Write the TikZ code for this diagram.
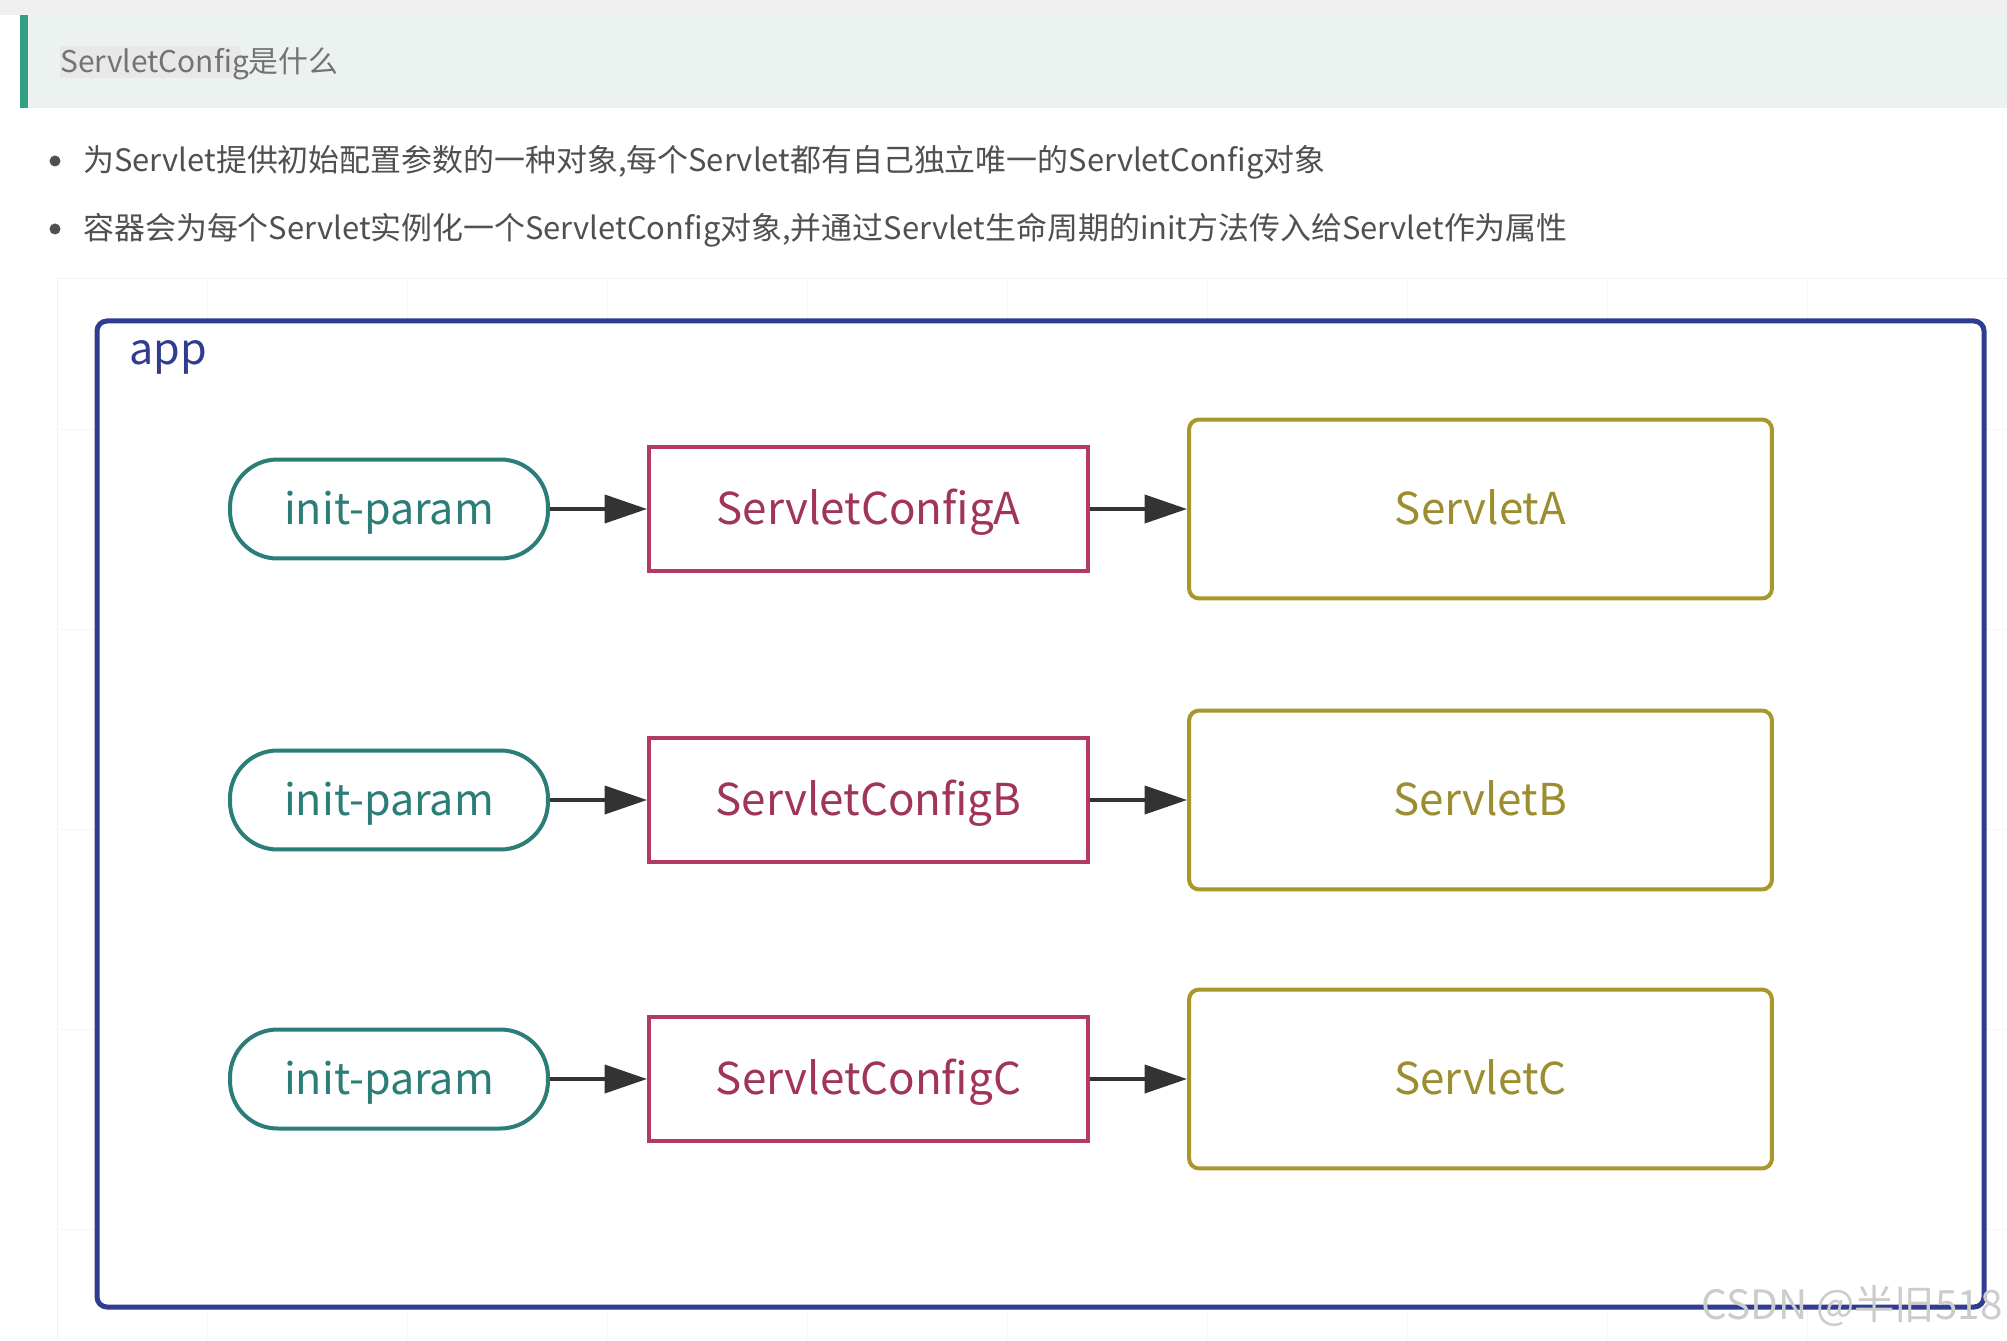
\documentclass[tikz,border=0pt]{standalone}
\usepackage{fontspec}
\setmainfont{Noto Sans CJK SC}
\usetikzlibrary{arrows.meta}
\definecolor{appblue}{RGB}{47,60,143}
\definecolor{paramteal}{RGB}{43,125,120}
\definecolor{cfgred}{RGB}{178,58,99}
\definecolor{svlolive}{RGB}{168,152,44}
\definecolor{svltext}{RGB}{156,142,48}
\definecolor{arrowgray}{RGB}{51,51,51}
\definecolor{bodygray}{RGB}{80,80,80}
\definecolor{headbg}{RGB}{236,242,240}
\definecolor{headbar}{RGB}{52,160,130}
\tikzset{
  boxtext/.style={text height=23pt,text depth=5pt},
  param/.style={boxtext,draw=paramteal,text=paramteal,line width=0.08cm,rounded corners=0.95cm,
    minimum width=6.36cm,minimum height=1.98cm,font=\fontsize{24.5}{28}\selectfont},
  cfg/.style={boxtext,draw=cfgred,text=cfgred!90!black,line width=0.08cm,
    minimum width=8.78cm,minimum height=2.5cm,font=\fontsize{25}{28}\selectfont},
  svl/.style={boxtext,draw=svlolive,text=svltext,line width=0.08cm,rounded corners=0.2cm,
    minimum width=11.66cm,minimum height=3.58cm,font=\fontsize{25}{28}\selectfont},
  flow/.style={draw=arrowgray,line width=0.08cm,-{Triangle[length=0.85cm,width=0.56cm]}},
  bullettext/.style={anchor=west,text=bodygray,inner sep=0,font=\fontsize{17.6}{21}\selectfont}
}
\newcommand{\svrow}[2]{% y, letter   (init-param -> ServletConfig -> Servlet)
  \node[param] (p#2) at (389,#1) {init-param};
  \node[cfg] (c#2) at (868.5,#1) {ServletConfig#2};
  \node[svl] (s#2) at (1480.5,#1) {Servlet#2};
  \draw[flow] (p#2) -- (c#2);
  \draw[flow] (c#2) -- (s#2);}

\begin{document}
\begin{tikzpicture}[x=0.02cm,y=-0.02cm]
  \useasboundingbox (0,0) rectangle (2007,1341);
  \fill[white] (0,0) rectangle (2007,1341);
  % header
  \fill[gray!12] (0,0) rectangle (2007,15);
  \fill[headbg] (20,15) rectangle (2007,108);
  \fill[headbar] (20,15) rectangle (28,108);
  \fill[gray!18] (60,46) rectangle (241,78);
  \node[anchor=west,inner sep=0,text=gray!90!black,font=\fontsize{17}{20}\selectfont] (title) at (60,64) {ServletConfig是什么};
  % bullets
  \fill[bodygray] (55,161) circle (5.5);
  \node[bullettext] (b1) at (83,162) {为Servlet提供初始配置参数的一种对象,每个Servlet都有自己独立唯一的ServletConfig对象};
  \fill[bodygray] (55,229) circle (5.5);
  \node[bullettext] (b2) at (83,230) {容器会为每个Servlet实例化一个ServletConfig对象,并通过Servlet生命周期的init方法传入给Servlet作为属性};
  % faint grid
  \draw[gray!10,line width=0.5pt] (57,278) -- (2007,278);
  \draw[gray!10,line width=0.5pt] (57,278) -- (57,1341);
  \foreach \gx in {207,407,...,2007} \draw[gray!7,line width=0.5pt] (\gx,278) -- (\gx,1341);
  \foreach \gy in {429,629,...,1341} \draw[gray!7,line width=0.5pt] (57,\gy) -- (2007,\gy);
  % app frame
  \draw[appblue,line width=0.1cm,fill=white,rounded corners=0.2cm] (97,321) rectangle (1984,1307);
  \node[anchor=west,inner sep=0,text=appblue,font=\fontsize{24.5}{28}\selectfont] (app) at (129,357) {app};
  % rows
  \svrow{509}{A}
  \svrow{800}{B}
  \svrow{1079}{C}
  % watermark
  \node[anchor=east,inner sep=0,text=gray!40,font=\fontsize{23}{26}\selectfont] (mark) at (2003,1306) {CSDN @半旧518};
\end{tikzpicture}
\end{document}
